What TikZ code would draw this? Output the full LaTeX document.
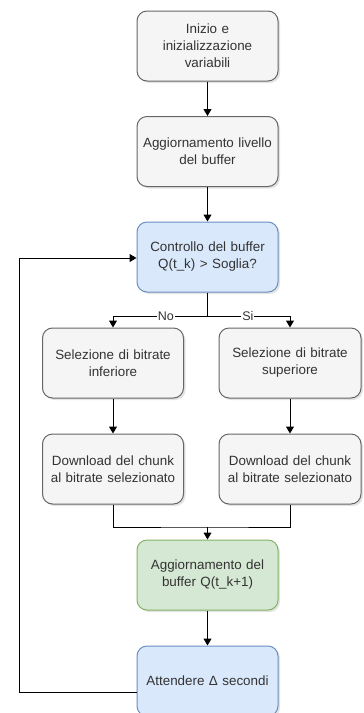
\documentclass[tikz,border=0pt]{standalone}
\usepackage{fontspec}
\setmainfont{Liberation Sans}
\usetikzlibrary{arrows.meta,shadows}
\definecolor{grayfill}{HTML}{F5F5F5}
\definecolor{graystroke}{HTML}{666666}
\definecolor{bluefill}{HTML}{DAE8FC}
\definecolor{bluestroke}{HTML}{6C8EBF}
\definecolor{greenfill}{HTML}{D5E8D4}
\definecolor{greenstroke}{HTML}{82B366}
\definecolor{txt}{HTML}{333333}
\tikzset{
  box/.style={rectangle, rounded corners=10pt, minimum width=141pt, minimum height=70pt,
    text width=141pt, align=center, inner sep=0pt, line width=1pt, text=txt,
    font=\fontsize{13.4}{17}\selectfont,
    drop shadow={opacity=0.22, shadow xshift=2pt, shadow yshift=-2pt}},
  graybox/.style={box, draw=graystroke, fill=grayfill},
  bluebox/.style={box, draw=bluestroke, fill=bluefill},
  greenbox/.style={box, draw=greenstroke, fill=greenfill},
  conn/.style={line width=1pt, draw=black, -{Triangle[length=7pt,width=8pt]}},
  plain/.style={line width=1pt, draw=black},
  lbl/.style={fill=white, inner sep=1pt, font=\fontsize{12.5}{14}\selectfont, text=txt}
}
\begin{document}
\begin{tikzpicture}[x=1pt,y=1pt]
\useasboundingbox (0,0) rectangle (364,-713);
\node[graybox] (b1) at (207.5,-46) {Inizio e\\inizializzazione\\variabili};
\node[graybox] (b2) at (207.5,-151.5) {Aggiornamento livello\\del buffer};
\node[bluebox] (b3) at (207.5,-257) {Controllo del buffer\\Q(t\_k) > Soglia?};
\node[graybox, minimum width=140pt] (l1) at (113,-363) {Selezione di bitrate\\inferiore};
\node[graybox, minimum width=142pt] (r1) at (290,-363) {Selezione di bitrate\\superiore};
\node[graybox, minimum width=140pt] (l2) at (113,-469) {Download del chunk\\al bitrate selezionato};
\node[graybox, minimum width=142pt] (r2) at (290,-469) {Download del chunk\\al bitrate selezionato};
\node[greenbox] (g) at (207.5,-575) {Aggiornamento del\\buffer Q(t\_k+1)};
\node[bluebox] (w) at (207.5,-681) {Attendere Δ secondi};
\coordinate (split) at (207.5,-316);
\coordinate (merge) at (207.5,-527);
\coordinate (lp1) at (19,-692);
\coordinate (lp2) at (19,-258);
\draw[conn] (b1) -- (b2);
\draw[conn] (b2) -- (b3);
\draw[conn] (b3.south) -- (split) -| node[lbl, pos=0.22] {No} (l1.north);
\draw[conn] (split) -| node[lbl, pos=0.245] {Si} (r1.north);
\draw[conn] (l1) -- (l2);
\draw[conn] (r1) -- (r2);
\draw[plain] (l2.south) |- (merge) -| (r2.south);
\draw[conn] (merge) -- (g.north);
\draw[conn] (g) -- (w);
\draw[conn] (w.west |- lp1) -- (lp1) -- (lp2) -- (b3.west |- lp2);
\end{tikzpicture}
\end{document}
